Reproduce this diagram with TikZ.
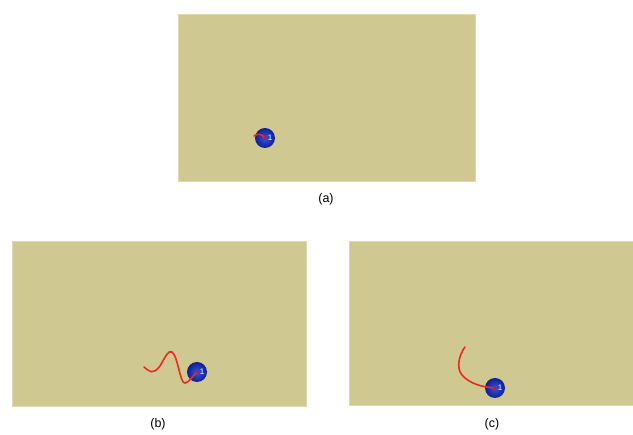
\documentclass[tikz,border=0pt]{standalone}
\usepackage{fontspec}
\setmainfont{Liberation Sans}
\begin{document}
\begin{tikzpicture}[x=1pt,y=-1pt,
  panel/.style={draw={rgb,255:red,222;green,217;blue,175},line width=0.8pt,fill={rgb,255:red,207;green,201;blue,145},inner sep=0pt,anchor=north west},
  ballnode/.style={circle,minimum size=20pt,inner sep=0pt,shading=radial,inner color={rgb,255:red,55;green,85;blue,215},outer color={rgb,255:red,15;green,30;blue,150}},
  trail/.style={draw={rgb,255:red,240;green,40;blue,30},line width=1.6pt,line cap=round},
  capt/.style={font=\fontsize{12.5}{14}\selectfont},
  num/.style={text=white,font=\fontsize{8}{8}\selectfont,inner sep=0pt}]
\useasboundingbox (0,0) rectangle (633,435);
% panels
\node[panel,minimum width=297pt,minimum height=167pt] (pa) at (178,14) {};
\node[panel,minimum width=294pt,minimum height=165pt] (pb) at (12,241) {};
\node[panel,minimum width=284pt,minimum height=164pt] (pc) at (349,241) {};
% captions
\node[capt] (ca) at (326,199) {(a)};
\node[capt] (cb) at (158,424) {(b)};
\node[capt] (cc) at (492,424) {(c)};
% ball a
\node[ballnode] (ba) at (265,138) {};
\coordinate (sa) at (254,136);
\draw[trail] (sa) .. controls (258,133) and (262,134) .. (ba.center);
\fill[red] (ba.center) circle (1.5pt);
\node[num] (na) at (270,138) {1};
% ball b
\node[ballnode] (bb) at (197,372) {};
\coordinate (sb) at (144,367);
\draw[trail] (sb) .. controls (150,372) and (153,375) .. (160,366)
  .. controls (166,356) and (168,350) .. (172,352)
  .. controls (178,356) and (180,384) .. (185,383)
  .. controls (190,382) and (192,376) .. (bb.center);
\fill[red] (bb.center) circle (1.5pt);
\node[num] (nb) at (202,372) {1};
% ball c
\node[ballnode] (bc) at (495,388) {};
\coordinate (sc) at (465,347);
\draw[trail] (sc) .. controls (459,355) and (456,368) .. (462,375)
  .. controls (470,384) and (482,387) .. (bc.center);
\fill[red] (bc.center) circle (1.5pt);
\node[num] (nc) at (500,388) {1};
\end{tikzpicture}
\end{document}
